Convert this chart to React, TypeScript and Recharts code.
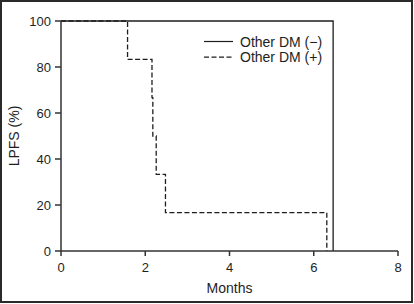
import { Label, Legend, Line, LineChart, XAxis, YAxis } from "recharts";

// Kaplan-Meier steps (months, LPFS %)
const minusTimes = [0, 6.46];
const minusSurv = [100, 0];

const plusTimes = [0, 1.58, 2.16, 2.18, 2.26, 2.48, 6.31];
const plusSurv = [100, 83.3, 66.7, 50, 33.3, 16.7, 0];

const xTicks = [0, 2, 4, 6, 8];
const yTicks = [0, 20, 40, 60, 80, 100];

const seriesNames = ["Other DM (\u2212)", "Other DM (+)"];
const seriesDash = ["", "5 2.5"];

const toRows = (times: number[], surv: number[]) =>
  times.map((t, i) => ({ t, s: surv[i] }));

const minusData = toRows(minusTimes, minusSurv);
const plusData = toRows(plusTimes, plusSurv);

const INK = "#1e1e1e";
const FONT = "'Liberation Sans', Arial, sans-serif";

function KmLegend() {
  return (
    <svg width={140} height={34} style={{ display: "block" }}>
      {seriesNames.map((name, i) => (
        <g key={name}>
          <line
            x1={0}
            x2={29}
            y1={8.5 + i * 15.6}
            y2={8.5 + i * 15.6}
            stroke={INK}
            strokeWidth={1.2}
            strokeDasharray={seriesDash[i] || undefined}
          />
          <text x={36} y={13.5 + i * 15.6} fontSize={14} fontFamily={FONT} fill={INK}>
            {name}
          </text>
        </g>
      ))}
    </svg>
  );
}

export default function App() {
  return (
    <div style={{ position: "absolute", left: 0, top: 0, width: 414, height: 304 }}>
      <div
        style={{
          position: "absolute",
          left: 0,
          top: 0,
          width: 413,
          height: 303,
          border: "2px solid #2a2a2a",
          boxSizing: "border-box",
        }}
      />
      <LineChart
        width={414}
        height={304}
        margin={{ top: 21, right: 16, bottom: 0, left: 0 }}
        style={{ fontFamily: FONT }}
      >
        <XAxis
          dataKey="t"
          type="number"
          domain={[0, 8]}
          ticks={xTicks}
          height={53}
          tickSize={5}
          tickMargin={7}
          stroke="#333"
          strokeWidth={1.5}
          tick={{ fill: INK, fontSize: 13 }}
          allowDuplicatedCategory={false}
        >
          <Label value="Months" position="insideBottom" offset={11} fill={INK} fontSize={14} />
        </XAxis>
        <YAxis
          type="number"
          domain={[0, 100]}
          ticks={yTicks}
          width={61}
          tickSize={6}
          tickMargin={4}
          stroke="#333"
          strokeWidth={1.5}
          tick={{ fill: INK, fontSize: 13 }}
        >
          <Label
            value="LPFS (%)"
            angle={-90}
            position="insideLeft"
            offset={14}
            fill={INK}
            fontSize={14}
            style={{ textAnchor: "middle" }}
          />
        </YAxis>
        <Legend
          layout="horizontal"
          verticalAlign="middle"
          align="center"
          wrapperStyle={{ left: 204, top: 33, width: 140, height: 34 }}
          content={() => <KmLegend />}
        />
        <Line
          data={plusData}
          dataKey="s"
          name={seriesNames[1]}
          type="stepAfter"
          stroke={INK}
          strokeWidth={1.3}
          strokeDasharray={seriesDash[1]}
          dot={false}
          isAnimationActive={false}
        />
        <Line
          data={minusData}
          dataKey="s"
          name={seriesNames[0]}
          type="stepAfter"
          stroke={INK}
          strokeWidth={1.3}
          dot={false}
          isAnimationActive={false}
        />
      </LineChart>
    </div>
  );
}
